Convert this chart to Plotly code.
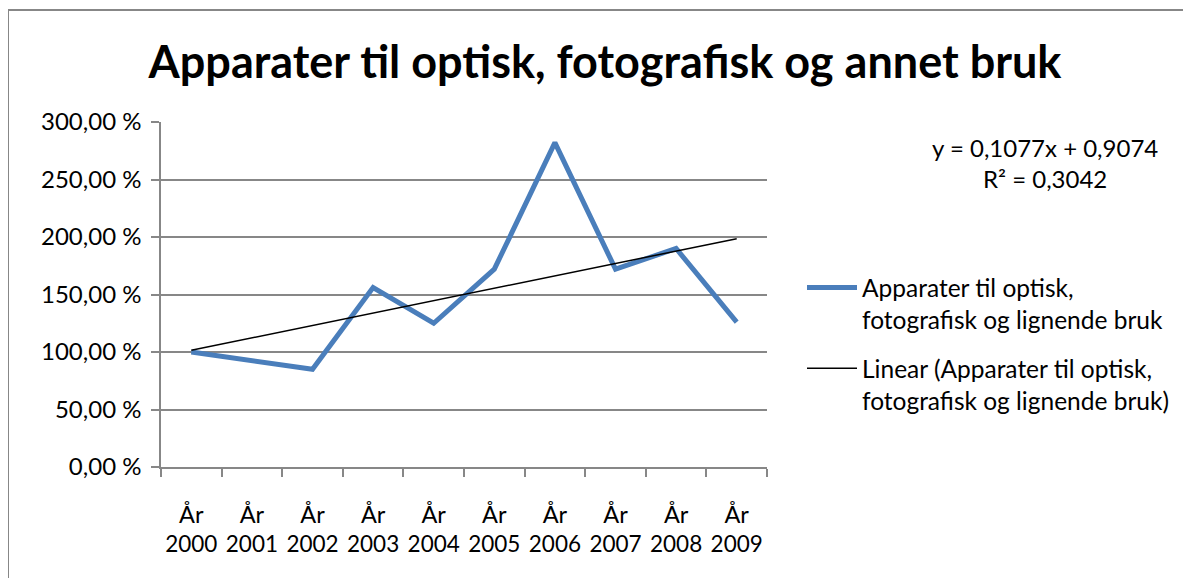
import numpy as np
import plotly.graph_objects as go

# data
years = ["2000", "2001", "2002", "2003", "2004", "2005", "2006", "2007", "2008", "2009"]
year_prefix = "År"
values = [100, 92, 85, 156, 125, 172, 282, 172, 190, 126]  # in %
y_ticks = [0, 50, 100, 150, 200, 250, 300]
y_tick_text = ["0,00 %", "50,00 %", "100,00 %", "150,00 %", "200,00 %", "250,00 %", "300,00 %"]

title_text = "Apparater til optisk, fotografisk og annet bruk"
series_name = "Apparater til optisk,<br>fotografisk og lignende bruk"
trend_name = "Linear (Apparater til optisk,<br>fotografisk og lignende bruk)"
equation_text = "y = 0,1077x + 0,9074<br>R² = 0,3042"

FONT = "Lato"
GRID = "#878787"
BLUE = "#4A7EBB"

idx = list(range(len(years)))
# linear trend the same way Excel does it (x = 1..n)
slope, intercept = np.polyfit(np.arange(1, len(years) + 1), values, 1)
trend_x = [idx[0], idx[-1]]
trend_y = [slope * 1 + intercept, slope * len(years) + intercept]

fig = go.Figure()
fig.add_trace(go.Scatter(
    x=idx, y=values, mode="lines", name=series_name,
    line=dict(color=BLUE, width=5), legendgroup="a"))
fig.add_trace(go.Scatter(
    x=trend_x, y=trend_y, mode="lines", name=trend_name,
    line=dict(color="black", width=1.5), legendgroup="b"))
# invisible helper so the second x axis (year labels) is drawn
fig.add_trace(go.Scatter(x=idx, y=values, xaxis="x2", mode="lines",
                         line=dict(width=0), showlegend=False, hoverinfo="skip"))

OFF = 8  # page body margin
W, H = 1191, 578
L, R, T, B = 161 - OFF, W - 767 + OFF, 122 - OFF, H - 467 + OFF
pw, ph = W - L - R, H - T - B

def px_x(p):
    return (p - OFF - L) / pw

def px_y(p):
    return (H - B - (p - OFF)) / ph

fig.update_layout(
    width=W, height=H,
    margin=dict(l=L, r=R, t=T, b=B),
    paper_bgcolor="white", plot_bgcolor="white",
    font=dict(family=FONT, size=24, color="black"),
    title=dict(text=title_text, x=(605 - OFF) / W, xanchor="center", y=1 - (62 - OFF) / H,
               yanchor="middle",
               font=dict(family=FONT, size=45, color="black", weight="bold")),
    showlegend=True,
    legend=dict(x=px_x(802), y=px_y(265), xanchor="left", yanchor="top",
                font=dict(size=24.5), valign="top", tracegroupgap=14,
                itemwidth=50, bgcolor="rgba(0,0,0,0)"),
    xaxis=dict(range=[-0.5, len(years) - 0.5], tickvals=idx, ticktext=[year_prefix] * len(years),
               ticks="", showgrid=False, zeroline=False, showline=True, linecolor=GRID, linewidth=1.5,
               ticklabelstandoff=26, tickfont=dict(size=23.5),
               minor=dict(tickvals=[i - 0.5 for i in range(len(years) + 1)], ticks="outside",
                          ticklen=8, tickcolor=GRID, tickwidth=1.5, showgrid=False)),
    xaxis2=dict(overlaying="x", anchor="y", side="bottom", matches="x",
                tickvals=idx, ticktext=years, ticks="", showgrid=False, zeroline=False,
                showline=False, ticklabelstandoff=61, tickfont=dict(size=22.5)),
    yaxis=dict(range=[0, 300], tickvals=y_ticks, ticktext=y_tick_text, showgrid=True,
               gridcolor=GRID, gridwidth=1.5, zeroline=False, showline=True, linecolor=GRID,
               linewidth=1.5, ticks="outside", ticklen=8, tickcolor=GRID, tickwidth=1.5,
               ticklabelstandoff=5),
    shapes=[dict(type="rect", xref="paper", yref="paper",
                 x0=px_x(8), x1=px_x(W + 30), y0=px_y(H + 30), y1=px_y(10),
                 line=dict(color=GRID, width=2), fillcolor="rgba(0,0,0,0)", layer="below")],
    annotations=[dict(text=equation_text, xref="paper", yref="paper",
                      x=px_x(1045), y=px_y(163), xanchor="center", yanchor="middle",
                      showarrow=False, align="center", font=dict(size=24))],
)

fig.write_html("out.html")
